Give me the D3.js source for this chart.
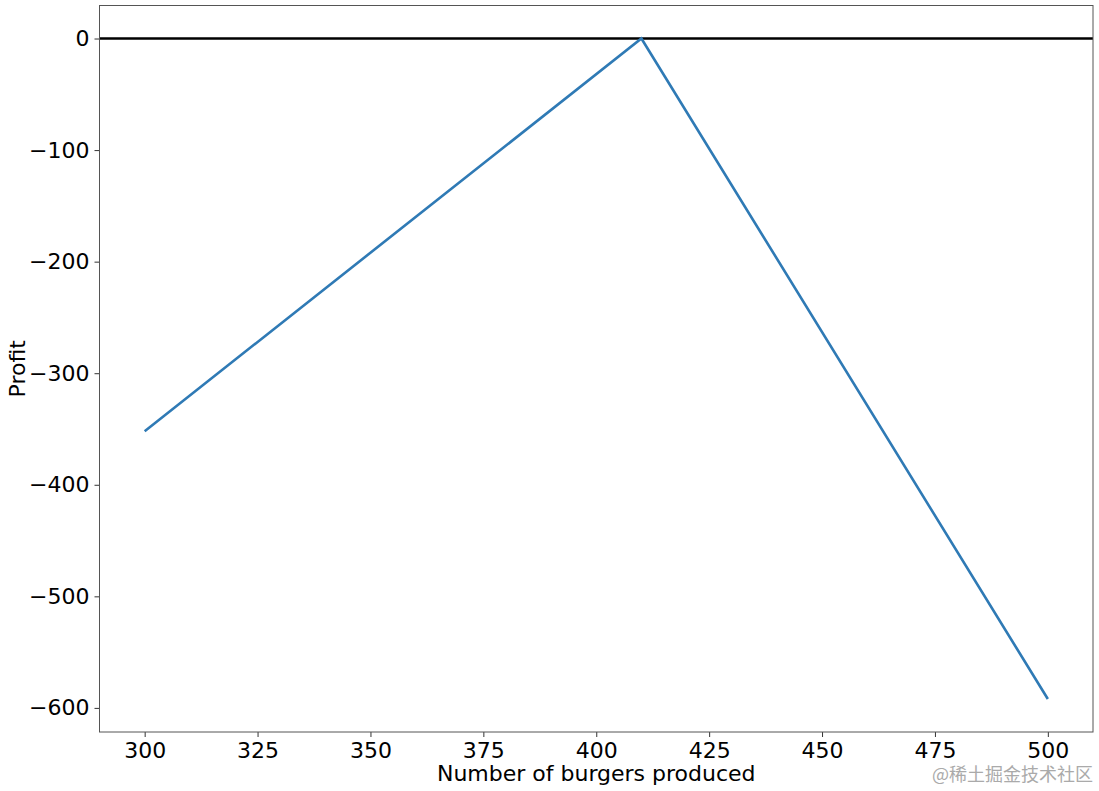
<!DOCTYPE html>
<meta charset="utf-8">
<style>
  body { margin: 0; background: #fff; }
  svg { font-family: "DejaVu Sans", sans-serif; }
  .tick text { font-size: 22px; fill: #000; }
</style>
<body>
<svg width="1099" height="791"></svg>
<script src="https://d3js.org/d3.v7.min.js"></script>
<script>
// burgers produced vs profit
var burgers = [300, 410, 500];
var profit = [-352, 0, -592];
var xTicks = [300, 325, 350, 375, 400, 425, 450, 475, 500];
var yTicks = [0, -100, -200, -300, -400, -500, -600];

var svg = d3.select("svg");
var plotLeft = 99.5, plotRight = 1093, plotTop = 5.5, plotBottom = 732;

var x = d3.scaleLinear().domain([290, 510]).range([plotLeft, plotRight]);
var y = d3.scaleLinear().domain([-621.6, 29.6]).range([plotBottom, plotTop]);

var points = burgers.map(function(b, i) { return { x: b, y: profit[i] }; });

// zero line
svg.append("line")
    .attr("x1", plotLeft).attr("x2", plotRight)
    .attr("y1", y(0)).attr("y2", y(0))
    .attr("stroke", "#000")
    .attr("stroke-width", 2.5);

svg.append("path")
    .datum(points)
    .attr("fill", "none")
    .attr("stroke", "#2f7ab5")
    .attr("stroke-width", 2.6)
    .attr("d", d3.line().x(function(d) { return x(d.x); }).y(function(d) { return y(d.y); }));

var xAxis = svg.append("g")
    .attr("transform", "translate(0," + plotBottom + ")")
    .call(d3.axisBottom(x).tickValues(xTicks).tickSize(5).tickPadding(5).tickFormat(d3.format("d")));
var yAxis = svg.append("g")
    .attr("transform", "translate(" + plotLeft + ",0)")
    .call(d3.axisLeft(y).tickValues(yTicks).tickSize(5).tickPadding(5)
        .tickFormat(function(d) { return d < 0 ? "\u2212" + (-d) : d; }));

[xAxis, yAxis].forEach(function(a) {
    a.select(".domain").remove();
    a.selectAll(".tick line").attr("stroke", "#333").attr("stroke-width", 1);
    a.selectAll(".tick text").attr("font-family", "DejaVu Sans");
});

// frame
svg.append("rect")
    .attr("x", plotLeft).attr("y", plotTop)
    .attr("width", plotRight - plotLeft).attr("height", plotBottom - plotTop)
    .attr("fill", "none")
    .attr("stroke", "#555")
    .attr("stroke-width", 1);

svg.append("text")
    .attr("x", (plotLeft + plotRight) / 2)
    .attr("y", 781)
    .attr("text-anchor", "middle")
    .attr("font-size", 22)
    .text("Number of burgers produced");

svg.append("text")
    .attr("transform", "translate(25," + ((plotTop + plotBottom) / 2) + ") rotate(-90)")
    .attr("text-anchor", "middle")
    .attr("font-size", 22)
    .text("Profit");

svg.append("text")
    .attr("x", 1093)
    .attr("y", 781)
    .attr("text-anchor", "end")
    .attr("font-size", 18)
    .attr("fill", "#aaa")
    .attr("font-family", "Noto Sans CJK SC")
    .text("@稀土掘金技术社区");
</script>
</body>
